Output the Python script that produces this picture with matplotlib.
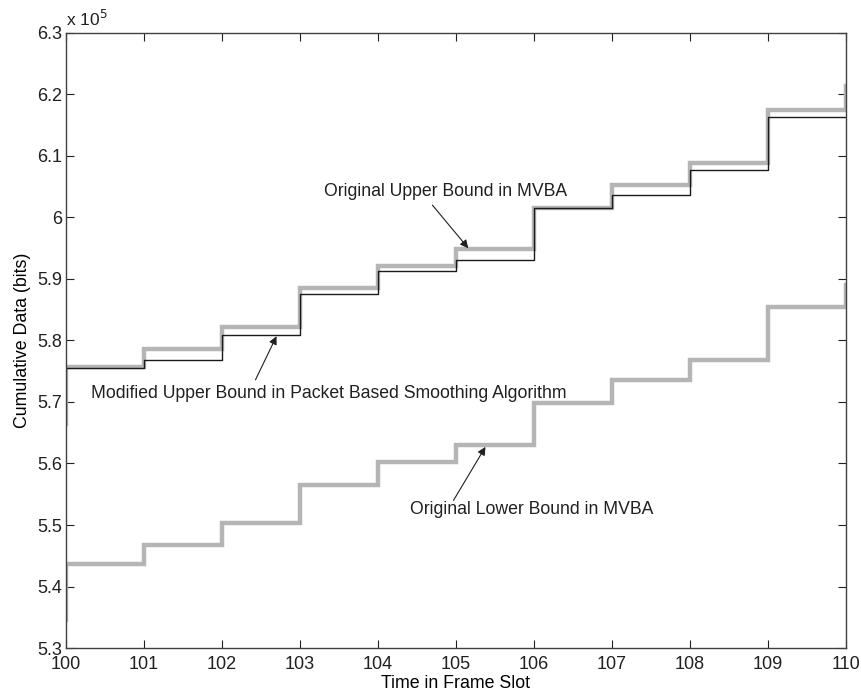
import numpy as np
import matplotlib
matplotlib.use("Agg")
import matplotlib.pyplot as plt

plt.rcParams['font.family'] = ['Liberation Sans', 'DejaVu Sans']

# ---- data (bits), value held on [t, t+1) ----
slots = np.arange(99, 112)  # 99 ... 111, clipped to 100..110 by the axis
orig_upper = np.array([5.665, 5.757, 5.786, 5.822, 5.885, 5.921, 5.949,
                       6.016, 6.052, 6.088, 6.175, 6.213, 6.213]) * 1e5
modified_upper = np.array([5.755, 5.755, 5.769, 5.809, 5.875, 5.913, 5.931,
                           6.016, 6.036, 6.077, 6.163, 6.163, 6.163]) * 1e5
orig_lower = np.array([5.345, 5.437, 5.467, 5.503, 5.565, 5.603, 5.630,
                       5.698, 5.736, 5.769, 5.855, 5.890, 5.890]) * 1e5

x_ticks = np.arange(100, 111)
y_ticks = np.arange(5.3, 6.31, 0.1) * 1e5

# ---- plot ----
fig = plt.figure(figsize=(8.62, 6.95), dpi=100)
ax = fig.add_axes([0.0766, 0.0676, 0.9044, 0.885])

gray = "#b5b5b5"
ax.step(slots, orig_upper, where="post", color=gray, lw=3.2, solid_joinstyle="miter")
ax.step(slots, orig_lower, where="post", color=gray, lw=3.2, solid_joinstyle="miter")
ax.step(slots, modified_upper, where="post", color="#1a1a1a", lw=1.0)

ax.set_xlim(100, 110)
ax.set_ylim(5.3e5, 6.3e5)
ax.set_xticks(x_ticks)
ax.set_yticks(y_ticks)
ax.set_yticklabels([f"{v / 1e5:.1f}".rstrip("0").rstrip(".") for v in y_ticks])

ax.tick_params(direction="in", length=6, width=0.8, top=True, right=True,
               labelsize=13, colors="#202020")
ax.tick_params(axis="x", pad=6)
ax.tick_params(axis="y", pad=3)
for s in ax.spines.values():
    s.set_color("#404040")
    s.set_linewidth(1.0)

ax.set_xlabel("Time in Frame Slot", fontsize=12.8, labelpad=1)
ax.set_ylabel("Cumulative Data (bits)", fontsize=12.8, labelpad=4)
ax.text(0.0, 1.006, r"x 10$^5$", transform=ax.transAxes, fontsize=12.5,
        ha="left", va="bottom", color="#202020")

arrow = dict(arrowstyle="-|>", color="#202020", lw=0.8, mutation_scale=12,
             shrinkA=0, shrinkB=0)
ax.annotate("", xy=(105.16, 5.950e5), xytext=(104.70, 6.020e5), arrowprops=arrow)
ax.text(104.87, 6.043e5, "Original Upper Bound in MVBA", fontsize=12.7,
        ha="center", va="center", color="#202020")

ax.annotate("", xy=(102.70, 5.807e5), xytext=(102.43, 5.736e5), arrowprops=arrow)
ax.text(103.37, 5.7146e5, "Modified Upper Bound in Packet Based Smoothing Algorithm",
        fontsize=12.7, ha="center", va="center", color="#202020")

ax.annotate("", xy=(105.38, 5.627e5), xytext=(104.97, 5.540e5), arrowprops=arrow)
ax.text(105.97, 5.526e5, "Original Lower Bound in MVBA", fontsize=12.7,
        ha="center", va="center", color="#202020")

fig.savefig("out.png", dpi=100)
